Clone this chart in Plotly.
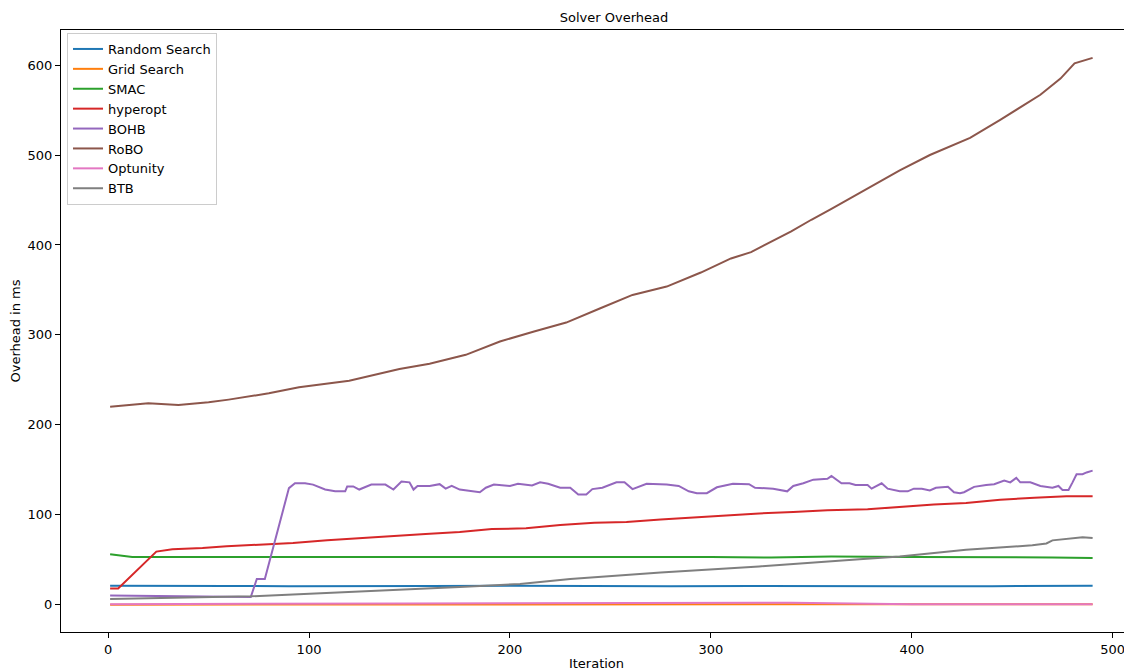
import plotly.graph_objects as go

# iteration positions / overhead values (ms)
rs_x = [1, 30, 60, 90, 130, 160, 200, 240, 280, 320, 360, 400, 440, 490]
rs_y = [21, 20.5, 20.8, 20.5, 21, 20.8, 21, 20.5, 20.5, 20.8, 21, 20.5, 20.5, 21]

gs_x = [1, 100, 200, 300, 340, 380, 420, 490]
gs_y = [0, 0.2, 0.5, 0.5, 0.8, 0.5, 0.3, 0.5]

smac_x = [1, 12, 50, 100, 150, 200, 250, 300, 330, 360, 400, 450, 470, 490]
smac_y = [56, 53, 53, 53, 53.5, 53.5, 53.5, 53, 52.5, 53.5, 53, 53, 52.5, 52]

hp_x = [1, 5, 24, 32, 47, 59, 75, 92, 109, 125, 142, 158, 175, 191, 208, 225,
        242, 258, 275, 291, 308, 324, 341, 358, 378, 394, 411, 427, 444, 461, 477, 490]
hp_y = [18, 18, 59, 61.7, 63, 65, 66.7, 68.5, 71.5, 74, 76, 78.5, 80.7, 84, 85, 88.5,
        91, 92, 94.7, 97, 100, 101.5, 103, 105, 106, 109, 111.5, 113, 116.7, 119, 120.5, 120.5]

bohb_x = [1, 71, 74, 78, 90, 93, 98, 102, 108, 113,
          118, 119, 122, 125, 131, 138, 142, 146, 150, 152,
          154, 160, 165, 168, 171, 175, 185, 188, 192, 200,
          204, 211, 215, 219, 225, 230, 234, 238, 241, 246,
          253, 257, 261, 268, 278, 284, 289, 293, 298, 303,
          311, 319, 322, 328, 331, 338, 341, 346, 351, 358,
          360, 365, 369, 372, 378, 380, 385, 388, 394, 398,
          401, 405, 409, 412, 418, 421, 424, 426, 431, 437,
          441, 446, 449, 452, 454, 459, 464, 470, 473, 475,
          478, 480, 482, 485, 487, 490]
bohb_y = [10.3, 8.5, 28.5, 28.5, 129.6, 135, 135, 133.5, 128, 126,
          126, 131.5, 131.5, 128, 133.5, 133.5, 128, 137, 136, 128,
          132, 132, 134, 129, 132, 128, 125, 130, 133.5, 132,
          134.5, 132.5, 136, 134.5, 130, 130, 122.5, 122.5, 128.5, 130,
          136, 136, 128.5, 134.5, 133.5, 132, 126, 124, 124, 130.5,
          134.5, 134, 130, 129, 129, 126, 132, 135, 139, 140,
          143, 135, 135, 133, 133, 129, 135, 129, 126, 126,
          129, 129, 127, 130, 131, 125, 124, 125, 131, 133,
          134, 138, 136, 141, 136, 136, 132, 130, 132, 127.5,
          127.5, 136, 145, 145, 147, 149]

robo_x = [1, 10, 20, 35, 50, 60, 80, 95, 120, 145, 160, 178, 195, 212, 228, 245, 261,
          278, 295, 310, 320, 340, 350, 360, 374, 394, 409, 429, 444, 464, 474, 481, 490]
robo_y = [220, 222, 224, 222, 225, 228, 235, 241.8, 249, 262, 268, 277.8, 292.6, 303.7,
          313.7, 329.6, 344.4, 353.7, 369.3, 385, 392, 415, 428, 440, 458, 483, 500,
          519, 539, 567, 585, 602, 608]

opt_x = [1, 50, 100, 150, 200, 250, 300, 340, 380, 400, 450, 490]
opt_y = [0.5, 1, 1, 1.3, 1.5, 1.5, 2, 2.2, 1, 0.5, 0.5, 0.5]

btb_x = [1, 71, 175, 205, 230, 275, 324, 344, 374, 394, 427, 460, 467, 470, 485, 490]
btb_y = [6.3, 9.3, 19.6, 23, 28.5, 35.9, 42.5, 46, 50.5, 53.5, 61, 66, 68, 71.5, 75, 74]

series = [
    ("Random Search", rs_x, rs_y, "#1f77b4"),
    ("Grid Search", gs_x, gs_y, "#ff7f0e"),
    ("SMAC", smac_x, smac_y, "#2ca02c"),
    ("hyperopt", hp_x, hp_y, "#d62728"),
    ("BOHB", bohb_x, bohb_y, "#9467bd"),
    ("RoBO", robo_x, robo_y, "#8c564b"),
    ("Optunity", opt_x, opt_y, "#e377c2"),
    ("BTB", btb_x, btb_y, "#7f7f7f"),
]

# page body adds an 8px offset, so the figure is sized/placed to compensate
OFF = 8
W, H = 1132 - OFF, 671 - OFF
L, R, T, B = 61 - OFF, 0, 30 - OFF, 671 - 632
FONT = "DejaVu Sans"

fig = go.Figure()
for name, xs, ys, color in series:
    fig.add_trace(go.Scatter(x=xs, y=ys, name=name, mode="lines",
                             line=dict(color=color, width=2)))

axis_style = dict(
    showline=True, linecolor="black", linewidth=1,
    ticks="outside", ticklen=5, tickwidth=1, tickcolor="black",
    showgrid=False, zeroline=False, automargin=False,
    tickfont=dict(family=FONT, size=13, color="black"),
)

fig.update_xaxes(range=[-23.45, 509.6], tickvals=[0, 100, 200, 300, 400, 500],
                 mirror=True,
                 title=dict(text="Iteration", standoff=3,
                            font=dict(family=FONT, size=13, color="black")),
                 **axis_style)
fig.update_yaxes(range=[-30.4, 639.0], tickvals=[0, 100, 200, 300, 400, 500, 600],
                 title=dict(text="Overhead in ms", standoff=5,
                            font=dict(family=FONT, size=13, color="black")),
                 **axis_style)

plot_w = W - L - R
plot_h = H - T - B

fig.update_layout(
    width=W, height=H,
    margin=dict(l=L, r=R, t=T, b=B, autoexpand=False),
    plot_bgcolor="white", paper_bgcolor="white",
    font=dict(family=FONT, size=13, color="black"),
    title=dict(text="Solver Overhead", x=(614 - OFF) / W, xanchor="center",
               y=1 - (17 - OFF) / H, yanchor="middle", xref="container", yref="container",
               font=dict(family=FONT, size=13, color="black")),
    legend=dict(x=(67 - OFF - L) / plot_w, y=1 - (33 - OFF - T) / plot_h,
                xanchor="left", yanchor="top",
                bgcolor="white", bordercolor="#cccccc", borderwidth=1,
                font=dict(family=FONT, size=13, color="black"),
                tracegroupgap=0),
    showlegend=True,
)

fig.write_html("out.html")
